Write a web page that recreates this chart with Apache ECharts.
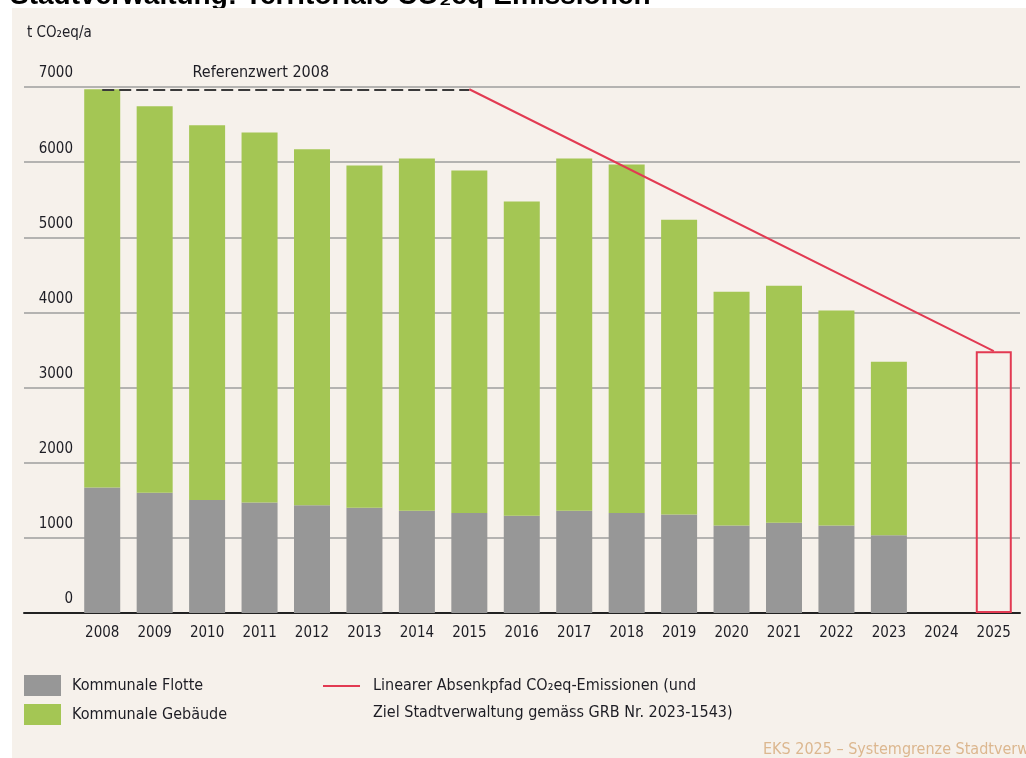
<html>
    <head>
        <meta charset="utf-8"/>
        <title>Territoriale CO2eq-Emissionen</title>
        <script src="https://cdn.jsdelivr.net/npm/echarts@6/dist/echarts.min.js"></script>
        <style>
            body { margin: 0; background: #fff; }
        </style>
    </head>
    <body>
        <div id="main" style="width: 1026px;height:758px;"></div>

        <script type="text/javascript">
            // Jahre und Werte (t CO2eq/a)
            var years = ['2008', '2009', '2010', '2011', '2012', '2013', '2014', '2015', '2016',
                         '2017', '2018', '2019', '2020', '2021', '2022', '2023', '2024', '2025'];
            var flotte = [1670, 1600, 1505, 1470, 1435, 1400, 1360, 1330, 1295,
                          1360, 1330, 1310, 1165, 1200, 1165, 1035, null, null];
            var gebaeude = [5300, 5145, 4985, 4925, 4735, 4555, 4690, 4560, 4180,
                            4690, 4640, 3925, 3110, 3155, 2860, 2310, null, null];
            // Absenkpfad: Start 2015 auf Referenzwert, Ziel 2025
            var absenkpfad = [null, null, null, null, null, null, null, 6970, null,
                              null, null, null, null, null, null, null, null, 3485];
            var ziel2025 = [null, null, null, null, null, null, null, null, null,
                            null, null, null, null, null, null, null, null, 3485];
            var referenzwert = 6970;
            var yTicks = [0, 1000, 2000, 3000, 4000, 5000, 6000, 7000];

            var nameFlotte = 'Kommunale Flotte';
            var nameGebaeude = 'Kommunale Gebäude';
            var pfadZeilen = ['Linearer Absenkpfad CO₂eq-Emissionen (und',
                              'Ziel Stadtverwaltung gemäss GRB Nr. 2023-1543)'];
            var namePfad = pfadZeilen.join(' ');

            var FONT = '"Liberation Sans Narrow", "DejaVu Sans Condensed", "Liberation Sans", sans-serif';
            var RED = '#e23a52';
            var TEXT = '#1d1d24';

            var chartDom = document.getElementById('main');
            var myChart = echarts.init(chartDom);
            var option;

            option = {
                backgroundColor: '#ffffff',
                animation: false,
                graphic: [
                    {
                        type: 'text', z: -20,
                        style: {
                            x: 10, y: 10, verticalAlign: 'bottom',
                            text: 'Stadtverwaltung: Territoriale CO₂eq-Emissionen',
                            font: 'bold 28px "Liberation Sans", Arial, sans-serif',
                            fill: '#000'
                        }
                    },
                    {
                        type: 'rect', z: -10,
                        shape: { x: 12, y: 8, width: 1014, height: 750 },
                        style: { fill: '#f6f1eb' }
                    },
                    {
                        type: 'text', z: 5,
                        style: {
                            x: 27, y: 33, verticalAlign: 'middle',
                            text: 't CO₂eq/a',
                            font: '15px ' + FONT,
                            fill: TEXT
                        }
                    },
                    {
                        // zweite Zeile der Legende zum Absenkpfad
                        type: 'text', z: 5,
                        style: {
                            x: 373, y: 713, verticalAlign: 'middle',
                            text: pfadZeilen[1],
                            font: '16px ' + FONT,
                            fill: TEXT
                        }
                    },
                    {
                        type: 'text', z: 5,
                        style: {
                            x: 763, y: 750, verticalAlign: 'middle',
                            text: 'EKS 2025 – Systemgrenze Stadtverwaltung',
                            font: '16px ' + FONT,
                            fill: '#dcb78f'
                        }
                    }
                ],
                legend: [
                    {
                        orient: 'vertical',
                        left: 24, top: 675, padding: 0,
                        itemWidth: 37, itemHeight: 21, itemGap: 8,
                        data: [
                            { name: nameFlotte, icon: 'rect' },
                            { name: nameGebaeude, icon: 'rect' }
                        ],
                        textStyle: { fontFamily: FONT, fontSize: 16, color: TEXT, padding: [0, 0, 0, 6] }
                    },
                    {
                        left: 323, top: 678, padding: 0,
                        itemWidth: 37, itemHeight: 2,
                        data: [{ name: namePfad, icon: 'rect' }],
                        formatter: function () { return pfadZeilen[0]; },
                        textStyle: { fontFamily: FONT, fontSize: 16, color: TEXT, padding: [0, 0, 0, 8] }
                    }
                ],
                grid: [
                    { left: 76, right: 6, top: 87, bottom: 145, outerBoundsMode: 'none' },
                    { left: 24, right: 6, top: 87, bottom: 145, outerBoundsMode: 'none' }
                ],
                xAxis: [
                    {
                        type: 'category', gridIndex: 0,
                        data: years,
                        axisLine: { show: false },
                        axisTick: { show: false },
                        axisLabel: { interval: 0, margin: 13, fontFamily: FONT, fontSize: 15, color: TEXT }
                    },
                    {
                        type: 'value', gridIndex: 1, min: 0, max: 1,
                        axisLine: { show: true, lineStyle: { color: '#222', width: 2 } },
                        axisTick: { show: false },
                        axisLabel: { show: false },
                        splitLine: { show: false }
                    }
                ],
                yAxis: [
                    {
                        type: 'value', gridIndex: 0,
                        min: yTicks[0], max: yTicks[yTicks.length - 1], interval: 1000,
                        axisLine: { show: false },
                        axisTick: { show: false },
                        splitLine: { show: false },
                        axisLabel: {
                            margin: 3, fontFamily: FONT, fontSize: 15, color: TEXT,
                            verticalAlign: 'bottom', padding: [0, 0, 6, 0],
                            formatter: function (v) { return String(v); }
                        }
                    },
                    {
                        type: 'value', gridIndex: 1,
                        min: yTicks[0], max: yTicks[yTicks.length - 1], interval: 1000,
                        axisLine: { show: false },
                        axisTick: { show: false },
                        axisLabel: { show: false },
                        splitLine: { show: true, showMinLine: false, lineStyle: { color: '#9e9e9e', width: 1.5 } }
                    }
                ],
                series: [
                    {
                        name: nameFlotte,
                        type: 'bar', stack: 'total', barWidth: 36,
                        data: flotte,
                        itemStyle: { color: '#979797' },
                        z: 3
                    },
                    {
                        name: nameGebaeude,
                        type: 'bar', stack: 'total', barWidth: 36,
                        data: gebaeude,
                        itemStyle: { color: '#a4c654' },
                        z: 3,
                        markLine: {
                            silent: true,
                            symbol: ['none', 'none'],
                            lineStyle: { color: '#3a3a3a', type: [12, 5], width: 2 },
                            label: {
                                show: true,
                                position: 'insideMiddleTop',
                                distance: 8,
                                formatter: 'Referenzwert 2008',
                                fontFamily: FONT, fontSize: 16, color: TEXT,
                                padding: [0, 50, 0, 0]
                            },
                            data: [[
                                { coord: [years[0], referenzwert] },
                                { coord: [years[7], referenzwert] }
                            ]]
                        }
                    },
                    {
                        name: 'Ziel 2025',
                        type: 'bar', stack: 'total', barWidth: 36,
                        data: ziel2025,
                        itemStyle: { color: 'rgba(0,0,0,0)', borderColor: RED, borderWidth: 2 },
                        z: 4
                    },
                    {
                        name: namePfad,
                        type: 'line',
                        data: absenkpfad,
                        connectNulls: true,
                        symbol: 'none',
                        lineStyle: { color: RED, width: 2 },
                        itemStyle: { color: RED },
                        z: 5
                    }
                ]
            };

            myChart.setOption(option);
        </script>
    </body>
</html>
